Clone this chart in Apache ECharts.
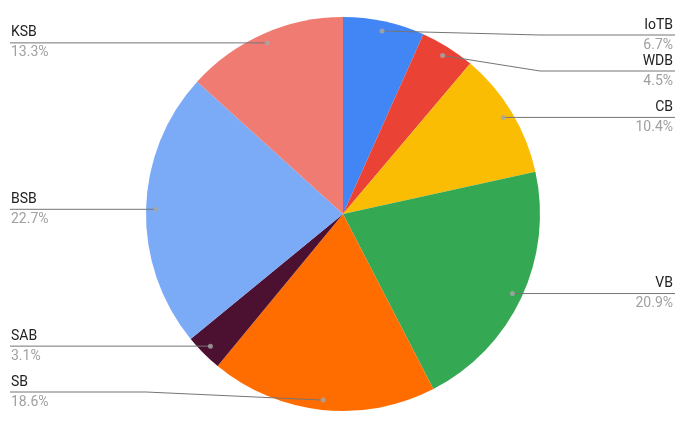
<!DOCTYPE html>
<html><head><meta charset="utf-8">
<script src="https://cdn.jsdelivr.net/npm/echarts@6/dist/echarts.min.js"></script>
<style>html,body{margin:0;padding:0;background:#fff}#c{width:690px;height:424px}</style>
</head><body><div id="c"></div>
<script>
const categories = ['IoTB','WDB','CB','VB','SB','SAB','BSB','KSB'];
const values = [6.7, 4.5, 10.4, 20.9, 18.6, 3.1, 22.7, 13.3];
const colors = ['#4285F4','#EA4335','#FBBC04','#34A853','#FF6D01','#4C1130','#7BAAF7','#F07B72'];

const W = 690, H = 424, CX = 343, CY = 214, R = 197, DOT = 0.95;
const LEFT_X = 10, RIGHT_X = 675, MIN_Y = 35, MAX_Y = 392, GAP = 36;

const total = values.reduce((a, b) => a + b, 0);
const mids = []; let acc = 0;
values.forEach(v => { mids.push(acc + v / 2); acc += v; });

const chart = echarts.init(document.getElementById('c'));
chart.setOption({
  animation: false,
  backgroundColor: '#fff',
  polar: { center: [CX, CY], radius: R },
  angleAxis: { type: 'value', min: 0, max: total, startAngle: 90, clockwise: true, show: false },
  radiusAxis: { type: 'value', min: 0, max: 1, show: false },
  series: [{
    type: 'pie',
    center: [CX, CY],
    radius: R,
    startAngle: 90,
    clockwise: true,
    avoidLabelOverlap: false,
    data: categories.map((c, i) => ({ name: c, value: values[i], itemStyle: { color: colors[i] } })),
    label: { show: false },
    labelLine: { show: false },
    z: 1
  }, {
    type: 'pie',
    center: [CX, CY],
    radius: R,
    startAngle: 90,
    clockwise: true,
    avoidLabelOverlap: false,
    silent: true,
    data: categories.map((c, i) => ({ name: c, value: values[i], itemStyle: { color: 'rgba(0,0,0,0)' } })),
    label: { show: false },
    labelLine: { show: false },
    z: 3
  }, {
    type: 'scatter',
    coordinateSystem: 'polar',
    data: mids.map(m => [DOT, m]),
    symbolSize: 5,
    itemStyle: { color: '#a8a8a8' },
    silent: true,
    z: 5
  }]
});

// dot positions from the library's polar scale
const dots = mids.map(m => {
  let p = chart.convertToPixel({ polarIndex: 0 }, [DOT, m]);
  if (!p) {
    const a = (90 - 360 * m / total) * Math.PI / 180;
    p = [CX + DOT * R * Math.cos(a), CY - DOT * R * Math.sin(a)];
  }
  return p;
});
const side = dots.map(p => p[0] >= CX ? 1 : -1);
const labelY = dots.map(p => p[1]);
[1, -1].forEach(s => {
  const idx = dots.map((p, i) => i).filter(i => side[i] === s).sort((a, b) => dots[a][1] - dots[b][1]);
  for (let k = 0; k < idx.length; k++) {
    let y = Math.max(labelY[idx[k]], MIN_Y);
    if (k > 0) y = Math.max(y, labelY[idx[k - 1]] + GAP);
    labelY[idx[k]] = y;
  }
  for (let k = idx.length - 1; k >= 0; k--) {
    let y = Math.min(labelY[idx[k]], MAX_Y);
    if (k < idx.length - 1) y = Math.min(y, labelY[idx[k + 1]] - GAP);
    labelY[idx[k]] = y;
  }
});

chart.setOption({
  series: [{}, {
    label: {
      show: true,
      position: 'outside',
      formatter: '{n|{b}}\n{p|{c}%}',
      rich: {
        n: { fontFamily: 'Roboto', fontSize: 14, color: '#222', lineHeight: 20 },
        p: { fontFamily: 'Roboto', fontSize: 14, color: '#a0a0a0', lineHeight: 20 }
      }
    },
    labelLine: { show: true, length: 5, length2: 5, smooth: false, lineStyle: { color: '#757575', width: 1 } },
    labelLayout: function (params) {
      const i = params.dataIndex;
      const s = side[i], y = labelY[i], d = dots[i];
      const bendX = CX + s * R;
      const endX = s > 0 ? RIGHT_X : LEFT_X;
      return {
        x: s > 0 ? RIGHT_X - 2 : LEFT_X + 1,
        y: y,
        align: s > 0 ? 'right' : 'left',
        verticalAlign: 'middle',
        labelLinePoints: [[d[0], d[1]], [bendX, y], [endX, y]]
      };
    }
  }, {}]
});
</script></body></html>
